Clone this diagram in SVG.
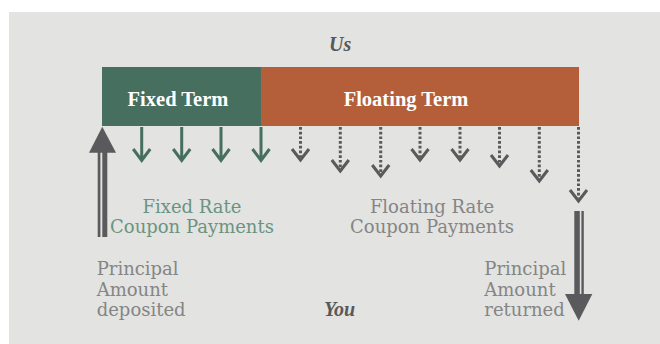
<svg xmlns="http://www.w3.org/2000/svg" width="660" height="344" viewBox="0 0 660 344">
  <style>
    .title { font-family: "Liberation Serif", serif; font-weight: bold; font-size: 20.5px; fill: #ffffff; }
    .who { font-family: "Liberation Serif", serif; font-weight: bold; font-style: italic; font-size: 20px; fill: #58585a; }
    .lbl { font-family: "DejaVu Serif", serif; font-size: 18px; fill: #858585; }
    .glbl { font-family: "DejaVu Serif", serif; font-size: 18px; fill: #6a9482; }
    .gsh { stroke: #466f5f; stroke-width: 3; fill: none; }
    .dsh { stroke: #5a5a5c; stroke-width: 3; fill: none; stroke-dasharray: 2.7 2; }
    .dhd { stroke: #5a5a5c; stroke-width: 3; fill: none; }
    .big { fill: #5a5a5c; }
  </style>
  <rect x="9" y="12" width="651" height="332" fill="#e3e3e1"/>

  <g id="us"><text class="who" x="329" y="51">Us</text></g>

  <g id="fixed-term">
    <rect x="102" y="67" width="159" height="59" fill="#466f5f"/>
    <text class="title" x="178" y="106" text-anchor="middle">Fixed Term</text>
  </g>
  <g id="floating-term">
    <rect x="261" y="67" width="318" height="59" fill="#b55e3a"/>
    <text class="title" x="406" y="106" text-anchor="middle">Floating Term</text>
  </g>

  <g id="connectors">
    <g id="principal-up" class="big">
      <polygon points="102.3,126.7 89,152.7 116,152.7"/>
      <rect x="97.7" y="150" width="2.7" height="87"/>
      <rect x="102.3" y="150" width="5" height="87"/>
    </g>
    <g id="principal-down" class="big">
      <polygon points="578.7,320.7 565,294 592.3,294"/>
      <rect x="574.3" y="211" width="5.5" height="86"/>
      <rect x="581.4" y="211" width="2.4" height="86"/>
    </g>
    <g id="fixed-coupons">
      <path class="gsh" d="M141.7,127V159.5M133.2,149l8.5,11.5l8.5,-11.5"/>
      <path class="gsh" d="M181.7,127V159.5M173.2,149l8.5,11.5l8.5,-11.5"/>
      <path class="gsh" d="M221,127V159.5M212.5,149l8.5,11.5l8.5,-11.5"/>
      <path class="gsh" d="M261,127V159.5M252.5,149l8.5,11.5l8.5,-11.5"/>
    </g>
    <g id="floating-coupons">
      <path class="dsh" d="M300.5,127V157"/><path class="dhd" d="M292,149l8.5,11l8.5,-11"/>
      <path class="dsh" d="M340.3,127V168"/><path class="dhd" d="M331.8,160l8.5,11l8.5,-11"/>
      <path class="dsh" d="M380.7,127V173"/><path class="dhd" d="M372.2,165l8.5,11l8.5,-11"/>
      <path class="dsh" d="M420,127V157"/><path class="dhd" d="M411.5,149l8.5,11l8.5,-11"/>
      <path class="dsh" d="M460,127V157"/><path class="dhd" d="M451.5,149l8.5,11l8.5,-11"/>
      <path class="dsh" d="M499.5,127V163"/><path class="dhd" d="M491,155l8.5,11l8.5,-11"/>
      <path class="dsh" d="M539.3,127V178"/><path class="dhd" d="M530.8,170l8.5,11l8.5,-11"/>
      <path class="dsh" d="M578.5,127V198"/><path class="dhd" d="M570,190l8.5,11l8.5,-11"/>
    </g>
  </g>

  <g id="fixed-rate-label">
    <text class="glbl" x="192" y="213" text-anchor="middle">Fixed Rate</text>
    <text class="glbl" x="192" y="233" text-anchor="middle">Coupon Payments</text>
  </g>
  <g id="floating-rate-label">
    <text class="lbl" x="432" y="213" text-anchor="middle">Floating Rate</text>
    <text class="lbl" x="432" y="233" text-anchor="middle">Coupon Payments</text>
  </g>
  <g id="principal-deposited-label">
    <text class="lbl" x="96.7" y="275">Principal</text>
    <text class="lbl" x="96.7" y="295.5">Amount</text>
    <text class="lbl" x="96.7" y="316">deposited</text>
  </g>
  <g id="principal-returned-label">
    <text class="lbl" x="484.3" y="275">Principal</text>
    <text class="lbl" x="484.3" y="295.5">Amount</text>
    <text class="lbl" x="484.3" y="316">returned</text>
  </g>
  <g id="you"><text class="who" x="324" y="316">You</text></g>
</svg>
